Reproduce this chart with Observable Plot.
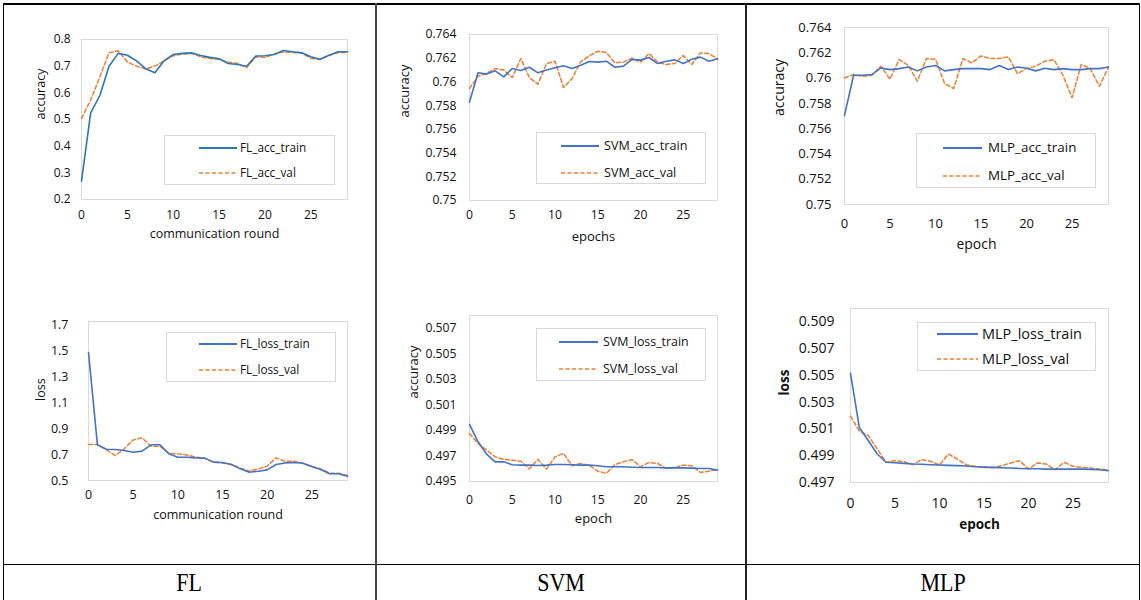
<!DOCTYPE html>
<html><head><meta charset="utf-8">
<script src="https://cdn.jsdelivr.net/npm/d3@7"></script>
<script src="https://cdn.jsdelivr.net/npm/@observablehq/plot@0.6"></script>
<style>
body{margin:0;background:#fff;}
#page{position:relative;width:1141px;height:600px;overflow:hidden;font-family:"Open Sans",sans-serif;background:#fff;}
.ln{position:absolute;}
.box{position:absolute;}
.legend{position:absolute;border:1px solid #d9d9d9;box-sizing:border-box;background:#fff;}
.lgtext{position:absolute;white-space:nowrap;line-height:1;color:#111;transform:translateY(-50%);}
.lgline{position:absolute;overflow:visible;}
.foot{position:absolute;font-family:"Liberation Serif","DejaVu Serif",serif;font-size:25px;color:#000;white-space:nowrap;}
</style>
</head><body><div id="page"></div>
<script>
// ---------- data ----------
const rounds = [0,1,2,3,4,5,6,7,8,9,10,11,12,13,14,15,16,17,18,19,20,21,22,23,24,25,26,27,28,29];
const xTickValues = [0,5,10,15,20,25];

const flAccTrain = [0.269,0.525,0.59,0.70,0.748,0.741,0.72,0.69,0.675,0.72,0.744,0.748,0.75,0.74,0.733,0.728,0.71,0.706,0.70,0.738,0.739,0.744,0.759,0.754,0.75,0.735,0.726,0.741,0.754,0.754];
const flAccVal   = [0.504,0.573,0.66,0.75,0.758,0.716,0.70,0.69,0.70,0.72,0.739,0.745,0.748,0.735,0.729,0.725,0.715,0.71,0.694,0.735,0.733,0.745,0.753,0.751,0.75,0.729,0.725,0.741,0.751,0.751];

const svmAccTrain = [0.7583,0.76077,0.76066,0.76094,0.76043,0.76113,0.76096,0.76124,0.76077,0.761,0.7612,0.76136,0.76113,0.7614,0.76172,0.76167,0.76175,0.76124,0.76133,0.7619,0.76184,0.76206,0.76155,0.76175,0.76186,0.76155,0.76192,0.76209,0.76175,0.76195];
const svmAccVal   = [0.75945,0.76049,0.76071,0.76113,0.761,0.76037,0.76198,0.76037,0.75981,0.76155,0.76175,0.75953,0.76029,0.76169,0.7622,0.76259,0.76248,0.76161,0.76167,0.762,0.76167,0.7624,0.76167,0.76147,0.76155,0.76223,0.76147,0.76245,0.7624,0.76192];

const mlpAccTrain = [0.75705,0.76022,0.76022,0.76028,0.7608,0.76067,0.76075,0.76088,0.76057,0.76088,0.76099,0.76057,0.76067,0.76075,0.76075,0.76075,0.76067,0.76099,0.76067,0.76088,0.76078,0.76057,0.76078,0.76067,0.76075,0.76067,0.76067,0.76075,0.76075,0.76088];
const mlpAccVal   = [0.76001,0.76028,0.76014,0.76022,0.76094,0.75991,0.76146,0.76101,0.75975,0.76154,0.76149,0.75956,0.75917,0.76154,0.7612,0.76175,0.76154,0.76154,0.76168,0.76035,0.76075,0.76094,0.76133,0.76146,0.76022,0.75845,0.76107,0.76075,0.75935,0.76088];

const flLossTrain = [1.49,0.776,0.742,0.74,0.732,0.719,0.727,0.776,0.776,0.706,0.68,0.68,0.675,0.673,0.642,0.639,0.624,0.59,0.564,0.572,0.582,0.624,0.636,0.639,0.634,0.608,0.585,0.552,0.552,0.533];
const flLossVal   = [0.778,0.778,0.737,0.693,0.745,0.814,0.83,0.765,0.765,0.711,0.706,0.698,0.68,0.673,0.642,0.636,0.624,0.595,0.572,0.59,0.611,0.675,0.649,0.649,0.634,0.608,0.59,0.557,0.557,0.539];

const svmLossTrain = [0.49947,0.49811,0.49714,0.49654,0.49654,0.49631,0.49628,0.49628,0.49625,0.49628,0.49633,0.49633,0.49631,0.49628,0.49628,0.49623,0.49615,0.49615,0.49615,0.49612,0.4961,0.4961,0.4961,0.49607,0.49607,0.49607,0.49605,0.49602,0.49602,0.49589];
const svmLossVal   = [0.49876,0.49798,0.49746,0.49693,0.49673,0.49667,0.49659,0.49599,0.49673,0.49597,0.49693,0.4972,0.49623,0.49641,0.49628,0.49581,0.49563,0.49633,0.49654,0.49673,0.49615,0.49649,0.49641,0.49602,0.49607,0.49628,0.49623,0.49571,0.49581,0.49594];

const mlpLossTrain = [0.50516,0.50109,0.50014,0.49913,0.49851,0.49848,0.49843,0.49838,0.49836,0.49833,0.49831,0.49828,0.49826,0.49823,0.49818,0.49815,0.49813,0.4981,0.49808,0.49805,0.49803,0.49803,0.498,0.498,0.498,0.498,0.498,0.49798,0.49795,0.49788];
const mlpLossVal   = [0.50195,0.50084,0.50051,0.49951,0.49851,0.49863,0.49856,0.49833,0.49871,0.49858,0.49831,0.49913,0.49876,0.49833,0.49821,0.49813,0.4981,0.49826,0.49846,0.49863,0.498,0.49846,0.49838,0.49795,0.49851,0.49821,0.49813,0.49808,0.498,0.49795];

const yTicksFlAcc  = [0.2,0.3,0.4,0.5,0.6,0.7,0.8];
const yTicksAcc    = [0.75,0.752,0.754,0.756,0.758,0.76,0.762,0.764];
const yTicksFlLoss = [0.5,0.7,0.9,1.1,1.3,1.5,1.7];
const yTicksSvmLoss= [0.495,0.497,0.499,0.501,0.503,0.505,0.507];
const yTicksMlpLoss= [0.497,0.499,0.501,0.503,0.505,0.507,0.509];

const seriesNames = [
  ["FL_acc_train","FL_acc_val"],["SVM_acc_train","SVM_acc_val"],["MLP_acc_train","MLP_acc_val"],
  ["FL_loss_train","FL_loss_val"],["SVM_loss_train","SVM_loss_val"],["MLP_loss_train","MLP_loss_val"]
];
const footLabels = ["FL","SVM","MLP"];

// ---------- layout ----------
const ORANGE = "#ed7d31";
const colLeft = [4,377,747], colW = [370,367,391];
const rowTop = [4,280], rowH = [276,283];

const panels = [
  {col:0,row:0,frame:[81,347,39,199],domain:[0.2,0.8],ticks:yTicksFlAcc,train:flAccTrain,val:flAccVal,
   xlab:"communication round",ylab:"accuracy",dx:-41,dy:38,fs:12,lfs:12.5,xpad:11,ypad:11,blue:"#2e75b6",bold:false,
   lg:{box:[164,135,335,185],lx:[199,237],tx:240,rows:[148,173],fs:11.8}},
  {col:1,row:0,frame:[469,717,34,200],domain:[0.75,0.764],ticks:yTicksAcc,train:svmAccTrain,val:svmAccVal,
   xlab:"epochs",ylab:"accuracy",dx:-65,dy:40,fs:12.2,lfs:13,xpad:10,ypad:13,blue:"#4472c4",bold:false,
   lg:{box:[536,132,706,184],lx:[561,599],tx:604,rows:[146,173],fs:12.6}},
  {col:2,row:0,frame:[844,1108,27,204],domain:[0.75,0.764],ticks:yTicksAcc,train:mlpAccTrain,val:mlpAccVal,
   xlab:"epoch",ylab:"accuracy",dx:-65,dy:44,fs:13,lfs:14,xpad:14,ypad:13,blue:"#4472c4",bold:false,
   lg:{box:[916,133,1096,188],lx:[943,982],tx:988,rows:[148,176],fs:13.4}},
  {col:0,row:1,frame:[88,347,321,480],domain:[0.5,1.73],ticks:yTicksFlLoss,train:flLossTrain,val:flLossVal,
   xlab:"communication round",ylab:"loss",dx:-48,dy:38,fs:12.5,lfs:12.5,xpad:10,ypad:20,blue:"#4472c4",bold:false,
   lg:{box:[166,332,336,382],lx:[199,237],tx:240,rows:[344,370],fs:11.8}},
  {col:1,row:1,frame:[469,717,315,481],domain:[0.495,0.508],ticks:yTicksSvmLoss,train:svmLossTrain,val:svmLossVal,
   xlab:"epoch",ylab:"accuracy",dx:-56,dy:41,fs:12.2,lfs:13,xpad:14,ypad:13,blue:"#4472c4",bold:false,
   lg:{box:[536,328,706,381],lx:[559,598],tx:603,rows:[342,369],fs:12.4}},
  {col:2,row:1,frame:[850,1108,308,482],domain:[0.497,0.510],ticks:yTicksMlpLoss,train:mlpLossTrain,val:mlpLossVal,
   xlab:"epoch",ylab:"loss",dx:-66,dy:46,fs:14,lfs:13.5,xpad:16,ypad:16,blue:"#4472c4",bold:true,
   lg:{box:[917,322,1096,371],lx:[937,978],tx:982,rows:[334,359],fs:14.5}}
];

const page = document.getElementById("page");
const fmt = d => String(+(+d).toFixed(4));

panels.forEach((p, i) => {
  const bl = colLeft[p.col], bt = rowTop[p.row], bw = colW[p.col], bh = rowH[p.row];
  const [fL, fR, fT, fB] = p.frame;
  const chart = Plot.plot({
    width: bw, height: bh,
    marginLeft: fL - bl, marginRight: bl + bw - fR, marginTop: fT - bt, marginBottom: bt + bh - fB,
    style: {fontFamily: '"Open Sans", sans-serif', fontSize: p.fs + "px", color: "#111", background: "transparent", overflow: "visible"},
    x: {domain: [0, 29]},
    y: {domain: p.domain},
    marks: [
      Plot.frame({stroke: "#d9d9d9", strokeWidth: 1}),
      Plot.axisX({ticks: xTickValues, tickSize: 0, tickPadding: p.xpad, label: null, tickFormat: d => String(d)}),
      Plot.axisY({ticks: p.ticks, tickSize: 0, tickPadding: p.ypad, label: null, tickFormat: fmt}),
      Plot.lineY(p.val, {x: rounds, y: d => d, stroke: ORANGE, strokeWidth: 1.5, strokeDasharray: "4,2.5"}),
      Plot.lineY(p.train, {x: rounds, y: d => d, stroke: p.blue, strokeWidth: 1.6}),
      Plot.text([p.xlab], {text: d => d, frameAnchor: "bottom", dy: p.dy, fontSize: p.lfs, fontWeight: p.bold ? "bold" : "normal", fill: "#111"}),
      Plot.text([p.ylab], {text: d => d, frameAnchor: "left", rotate: -90, dx: p.dx, fontSize: p.lfs, fontWeight: p.bold ? "bold" : "normal", fill: "#111"})
    ]
  });
  chart.style.position = "absolute";
  chart.style.left = bl + "px";
  chart.style.top = bt + "px";
  page.appendChild(chart);

  // legend
  const g = p.lg;
  const lg = document.createElement("div");
  lg.className = "legend";
  Object.assign(lg.style, {left: g.box[0] + "px", top: g.box[1] + "px", width: (g.box[2] - g.box[0]) + "px", height: (g.box[3] - g.box[1]) + "px"});
  page.appendChild(lg);
  seriesNames[i].forEach((name, k) => {
    const y = g.rows[k];
    const s = document.createElementNS("http://www.w3.org/2000/svg", "svg");
    s.setAttribute("class", "lgline");
    s.setAttribute("width", g.lx[1] - g.lx[0]);
    s.setAttribute("height", 4);
    Object.assign(s.style, {left: g.lx[0] + "px", top: (y - 2) + "px"});
    const l = document.createElementNS("http://www.w3.org/2000/svg", "line");
    l.setAttribute("x1", 0); l.setAttribute("x2", g.lx[1] - g.lx[0]);
    l.setAttribute("y1", 2); l.setAttribute("y2", 2);
    l.setAttribute("stroke", k === 0 ? p.blue : ORANGE);
    l.setAttribute("stroke-width", k === 0 ? 1.8 : 1.5);
    if (k === 1) l.setAttribute("stroke-dasharray", "4,2.5");
    s.appendChild(l);
    page.appendChild(s);
    const t = document.createElement("div");
    t.className = "lgtext";
    t.textContent = name;
    Object.assign(t.style, {left: g.tx + "px", top: y + "px", fontSize: g.fs + "px"});
    page.appendChild(t);
  });
});

// table lines
function line(x, y, w, h, c) {
  const d = document.createElement("div");
  d.className = "ln";
  Object.assign(d.style, {left: x + "px", top: y + "px", width: w + "px", height: h + "px", background: c});
  page.appendChild(d);
}
line(3, 3, 1137, 1.5, "#000");      // top
line(3, 563.5, 1137, 1.5, "#000");  // row divider
line(2.5, 3, 1.5, 600, "#000");     // left
line(1138.5, 3, 1.5, 600, "#000");  // right
line(375, 3, 2, 600, "#444");       // col divider 1
line(745, 3, 1.5, 600, "#222");     // col divider 2

// footer labels
const footCenters = [189, 561, 943];
footLabels.forEach((txt, i) => {
  const d = document.createElement("div");
  d.className = "foot";
  d.textContent = txt;
  Object.assign(d.style, {left: footCenters[i] + "px", top: "583px", transform: "translate(-50%,-50%) scaleX(0.88)"});
  page.appendChild(d);
});
</script>
</body></html>
